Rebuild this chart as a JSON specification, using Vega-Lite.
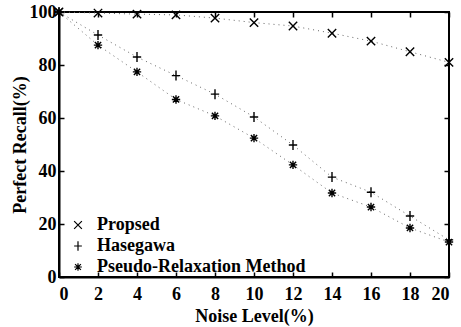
{
  "$schema": "https://vega.github.io/schema/vega-lite/v6.json",
  "width": 390,
  "height": 265,
  "autosize": {"type": "none"},
  "padding": {"left": 59, "top": 12, "right": 12, "bottom": 50},
  "background": "white",
  "config": {
    "font": "Liberation Serif",
    "view": {"stroke": "black", "strokeWidth": 2},
    "axis": {
      "grid": false,
      "domainColor": "black",
      "domainWidth": 2,
      "tickColor": "black",
      "tickWidth": 1.5,
      "tickSize": -5,
      "labelFont": "Liberation Serif",
      "labelFontSize": 18,
      "labelFontWeight": "bold",
      "labelColor": "black",
      "titleFont": "Liberation Serif",
      "titleFontSize": 18,
      "titleFontWeight": "bold",
      "titleColor": "black"
    }
  },
  "data": {
    "values": [
      {"series": "Propsed", "noise": 0, "recall": 100},
      {"series": "Propsed", "noise": 2, "recall": 99.6},
      {"series": "Propsed", "noise": 4, "recall": 99.2},
      {"series": "Propsed", "noise": 6, "recall": 98.9},
      {"series": "Propsed", "noise": 8, "recall": 97.7},
      {"series": "Propsed", "noise": 10, "recall": 96},
      {"series": "Propsed", "noise": 12, "recall": 94.7},
      {"series": "Propsed", "noise": 14, "recall": 92},
      {"series": "Propsed", "noise": 16, "recall": 89},
      {"series": "Propsed", "noise": 18, "recall": 85},
      {"series": "Propsed", "noise": 20, "recall": 81},
      {"series": "Hasegawa", "noise": 0, "recall": 100},
      {"series": "Hasegawa", "noise": 2, "recall": 91.3},
      {"series": "Hasegawa", "noise": 4, "recall": 83},
      {"series": "Hasegawa", "noise": 6, "recall": 76},
      {"series": "Hasegawa", "noise": 8, "recall": 69},
      {"series": "Hasegawa", "noise": 10, "recall": 60.4},
      {"series": "Hasegawa", "noise": 12, "recall": 49.8},
      {"series": "Hasegawa", "noise": 14, "recall": 37.7},
      {"series": "Hasegawa", "noise": 16, "recall": 32},
      {"series": "Hasegawa", "noise": 18, "recall": 23},
      {"series": "Hasegawa", "noise": 20, "recall": 14},
      {"series": "Pseudo-Relaxation Method", "noise": 0, "recall": 100},
      {"series": "Pseudo-Relaxation Method", "noise": 2, "recall": 87.5},
      {"series": "Pseudo-Relaxation Method", "noise": 4, "recall": 77.4},
      {"series": "Pseudo-Relaxation Method", "noise": 6, "recall": 67},
      {"series": "Pseudo-Relaxation Method", "noise": 8, "recall": 60.8},
      {"series": "Pseudo-Relaxation Method", "noise": 10, "recall": 52.4},
      {"series": "Pseudo-Relaxation Method", "noise": 12, "recall": 42.3},
      {"series": "Pseudo-Relaxation Method", "noise": 14, "recall": 31.7},
      {"series": "Pseudo-Relaxation Method", "noise": 16, "recall": 26.4},
      {"series": "Pseudo-Relaxation Method", "noise": 18, "recall": 18.5},
      {"series": "Pseudo-Relaxation Method", "noise": 20, "recall": 13.2}
    ]
  },
  "layer": [
    {
      "mark": {"type": "line", "strokeDash": [1, 4], "strokeWidth": 1, "color": "#666"},
      "encoding": {
        "x": {"field": "noise", "type": "quantitative", "scale": {"domain": [0, 20], "nice": false}, "axis": null},
        "y": {"field": "recall", "type": "quantitative", "scale": {"domain": [0, 100], "nice": false}, "axis": null},
        "detail": {"field": "series"}
      }
    },
    {
      "mark": {"type": "point", "filled": false, "strokeWidth": 1.4, "color": "black", "size": 70, "opacity": 1},
      "encoding": {
        "x": {"field": "noise", "type": "quantitative", "axis": {"title": "Noise Level(%)", "values": [0,2,4,6,8,10,12,14,16,18,20], "labelPadding": 13, "titlePadding": 4}},
        "y": {"field": "recall", "type": "quantitative", "axis": {"title": "Perfect Recall(%)", "values": [0,20,40,60,80,100], "labelPadding": 8, "titlePadding": 0}},
        "shape": {
          "field": "series",
          "type": "nominal",
          "scale": {
            "domain": ["Propsed", "Hasegawa", "Pseudo-Relaxation Method"],
            "range": [
              "M-1,-1L1,1M-1,1L1,-1",
              "M-1,0L1,0M0,-1.2L0,1.2",
              "M-1,0L1,0M0,-1L0,1M-0.75,-0.75L0.75,0.75M-0.75,0.75L0.75,-0.75"
            ]
          },
          "legend": {
            "title": null,
            "orient": "none",
            "legendX": 10,
            "legendY": 204,
            "labelFont": "Liberation Serif",
            "labelFontSize": 18,
            "labelFontWeight": "bold",
            "labelColor": "black",
            "labelLimit": 400,
            "symbolStrokeColor": "black",
            "symbolStrokeWidth": 1.2,
            "symbolSize": 60,
            "rowPadding": 3,
            "labelOffset": 10
          }
        }
      }
    },
    {
      "mark": {"type": "point", "opacity": 0},
      "encoding": {
        "x": {"field": "noise", "type": "quantitative", "axis": {"orient": "top", "title": null, "labels": false, "domain": false, "values": [0,2,4,6,8,10,12,14,16,18,20]}},
        "y": {"field": "recall", "type": "quantitative", "axis": {"orient": "right", "title": null, "labels": false, "domain": false, "values": [0,20,40,60,80,100]}}
      }
    }
  ],
  "resolve": {"axis": {"x": "independent", "y": "independent"}}
}
